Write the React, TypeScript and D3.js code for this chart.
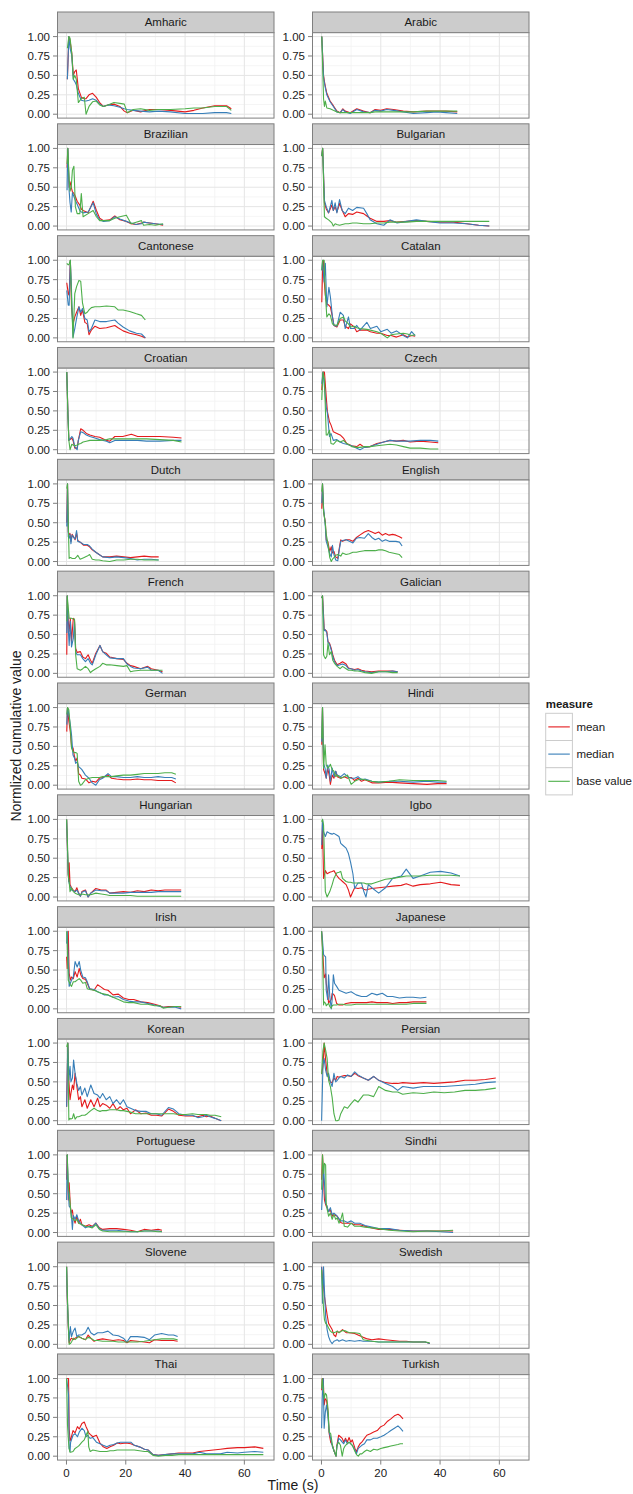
import React from "react";
import * as d3 from "d3";

// ---------- data ----------
const amharicTime = [0.3, 0.8, 1.2, 1.8, 2.3, 2.8, 3.3, 4, 5, 6, 6.6, 7.6, 8.8, 10, 11.2, 12.4, 14, 16, 18, 19.5, 20.5, 22.5, 25, 28, 31, 35, 40, 43, 46, 50, 54, 55.6];
const amharicMean = [0.45, 1.0, 0.95, 0.78, 0.5, 0.55, 0.57, 0.33, 0.22, 0.2, 0.2, 0.25, 0.27, 0.22, 0.15, 0.1, 0.12, 0.13, 0.1, 0.04, 0.02, 0.05, 0.03, 0.06, 0.06, 0.05, 0.03, 0.05, 0.08, 0.11, 0.11, 0.07];
const amharicMedian = [0.45, 1.0, 0.85, 0.75, 0.45, 0.42, 0.38, 0.27, 0.18, 0.17, 0.17, 0.18, 0.2, 0.18, 0.13, 0.1, 0.12, 0.11, 0.09, 0.07, 0.06, 0.05, 0.04, 0.03, 0.04, 0.03, 0.01, 0.01, 0.01, 0.02, 0.02, 0.01];
const amharicBase = [0.85, 1.0, 0.98, 0.78, 0.45, 0.5, 0.45, 0.15, 0.2, 0.22, 0.0, 0.1, 0.16, 0.17, 0.12, 0.1, 0.12, 0.15, 0.14, 0.13, 0.02, 0.06, 0.07, 0.05, 0.06, 0.06, 0.07, 0.08, 0.08, 0.1, 0.1, 0.05];

const arabicTime = [0.1, 0.7, 1.0, 1.3, 1.8, 2.9, 4, 5.2, 6.3, 7.2, 8, 9.7, 11.9, 14.2, 16.4, 18.1, 20, 22, 24.3, 27.6, 31, 35.5, 39, 42, 45.8];
const arabicMean = [1.0, 0.5, 0.42, 0.36, 0.27, 0.17, 0.11, 0.04, 0.02, 0.07, 0.04, 0.02, 0.07, 0.04, 0.02, 0.06, 0.05, 0.07, 0.06, 0.04, 0.03, 0.04, 0.04, 0.04, 0.03];
const arabicMedian = [1.0, 0.48, 0.4, 0.34, 0.25, 0.16, 0.1, 0.03, 0.02, 0.06, 0.03, 0.01, 0.06, 0.03, 0.02, 0.05, 0.04, 0.06, 0.05, 0.03, 0.01, 0.02, 0.03, 0.02, 0.01];
const arabicBase = [1.0, 0.2, 0.1, 0.17, 0.08, 0.07, 0.05, 0.03, 0.02, 0.02, 0.02, 0.02, 0.02, 0.02, 0.02, 0.03, 0.03, 0.03, 0.03, 0.03, 0.03, 0.04, 0.04, 0.04, 0.04];

const brazilianTime = [0.2, 0.45, 0.9, 1.2, 1.6, 2.0, 2.5, 3.0, 3.6, 4.5, 5.0, 5.6, 7.3, 9.0, 10.1, 11.2, 12.5, 14.6, 16.3, 18, 20.2, 21.8, 23.5, 25.3, 26, 28, 30, 32.6];
const brazilianMean = [0.75, 1.0, 0.5, 0.57, 0.5, 0.44, 0.42, 0.38, 0.32, 0.27, 0.22, 0.2, 0.17, 0.32, 0.2, 0.1, 0.07, 0.08, 0.13, 0.08, 0.06, 0.03, 0.02, 0.04, 0.05, 0.04, 0.03, 0.01];
const brazilianMedian = [0.46, 1.0, 0.45, 0.3, 0.18, 0.43, 0.38, 0.33, 0.28, 0.2, 0.18, 0.17, 0.18, 0.3, 0.15, 0.08, 0.06, 0.07, 0.12, 0.09, 0.06, 0.04, 0.02, 0.03, 0.05, 0.04, 0.03, 0.02];
const brazilianBase = [0.8, 1.0, 0.6, 0.45, 0.5, 0.72, 0.77, 0.25, 0.16, 0.16, 0.42, 0.12, 0.16, 0.2, 0.12, 0.07, 0.07, 0.07, 0.1, 0.12, 0.14, 0.03, 0.05, 0.07, 0.01, 0.02, 0.01, 0.03];

const bulgarianTime = [0.1, 0.4, 1.0, 1.6, 2.4, 3.5, 4.0, 4.6, 5.2, 6.1, 7, 8, 9.1, 10.5, 11.9, 14.2, 15.3, 16.4, 18.7, 21, 23.1, 25.5, 28.8, 32, 35.5, 40, 44.5, 49, 53, 56.6];
const bulgarianMean = [0.9, 1.0, 0.3, 0.22, 0.17, 0.27, 0.2, 0.25, 0.18, 0.29, 0.2, 0.12, 0.16, 0.15, 0.18, 0.16, 0.13, 0.1, 0.06, 0.06, 0.07, 0.05, 0.06, 0.07, 0.06, 0.05, 0.05, 0.03, 0.01, 0.0];
const bulgarianMedian = [0.9, 1.0, 0.33, 0.25, 0.17, 0.33, 0.2, 0.3, 0.17, 0.34, 0.2, 0.16, 0.23, 0.2, 0.24, 0.23, 0.16, 0.08, 0.03, 0.01, 0.08, 0.04, 0.06, 0.08, 0.06, 0.04, 0.04, 0.03, 0.01, 0.0];
const bulgarianBase = [0.9, 1.0, 0.12, 0.1, 0.08, 0.04, 0.0, 0.03, 0.02, 0.01, 0.02, 0.03, 0.03, 0.04, 0.04, 0.03, 0.03, 0.03, 0.04, 0.04, 0.05, 0.05, 0.05, 0.06, 0.06, 0.06, 0.06, 0.06, 0.06, 0.06];

const cantoneseTime = [0.1, 0.6, 0.9, 1.3, 1.7, 2.2, 2.8, 3.4, 4.2, 4.8, 5.4, 6.2, 7.0, 7.6, 8.4, 9.6, 11.2, 13.5, 16.3, 17.4, 19.1, 21.3, 23.6, 25.3, 26.6];
const cantoneseMean = [0.71, 0.57, 0.55, 1.0, 0.4, 0.18, 0.27, 0.33, 0.4, 0.29, 0.36, 0.2, 0.18, 0.04, 0.1, 0.15, 0.12, 0.13, 0.16, 0.13, 0.09, 0.06, 0.04, 0.02, 0.0];
const cantoneseMedian = [0.61, 0.42, 0.42, 1.0, 0.6, 0.01, 0.12, 0.25, 0.4, 0.33, 0.38, 0.25, 0.23, 0.08, 0.12, 0.23, 0.21, 0.21, 0.23, 0.19, 0.14, 0.09, 0.06, 0.05, 0.0];
const cantoneseBase = [0.96, 0.94, 0.95, 1.0, 0.5, 0.0, 0.57, 0.66, 0.74, 0.73, 0.45, 0.31, 0.33, 0.36, 0.39, 0.4, 0.4, 0.41, 0.4, 0.36, 0.36, 0.34, 0.31, 0.29, 0.23];

const catalanTime = [0.1, 0.4, 0.7, 0.9, 1.3, 1.8, 2.5, 3.0, 3.7, 4.2, 5.2, 6.3, 7.4, 8.0, 9.1, 9.8, 11.0, 11.9, 13, 15.3, 16.5, 18.7, 20, 22.2, 23.5, 25.3, 27.6, 29, 30.4, 31.6];
const catalanMean = [0.46, 0.94, 1.0, 0.75, 0.55, 0.44, 0.42, 0.4, 0.27, 0.16, 0.14, 0.23, 0.23, 0.15, 0.12, 0.18, 0.14, 0.08, 0.1, 0.1, 0.08, 0.06, 0.06, 0.03, 0.03, 0.01, 0.04, 0.01, 0.03, 0.02];
const catalanMedian = [0.87, 1.0, 0.8, 0.72, 0.96, 0.4, 0.65, 0.53, 0.27, 0.16, 0.15, 0.33, 0.29, 0.12, 0.27, 0.12, 0.12, 0.16, 0.1, 0.2, 0.12, 0.15, 0.08, 0.11, 0.06, 0.09, 0.03, 0.0, 0.08, 0.03];
const catalanBase = [0.87, 1.0, 1.0, 1.0, 0.57, 0.27, 0.31, 0.29, 0.18, 0.17, 0.16, 0.25, 0.27, 0.22, 0.18, 0.14, 0.15, 0.13, 0.12, 0.11, 0.1, 0.08, 0.06, 0.0, 0.04, 0.05, 0.06, 0.05, 0.03, 0.04];

const croatianTime = [0.1, 0.5, 0.8, 1.2, 1.8, 2.2, 2.8, 3.6, 4.0, 4.8, 5.6, 6.7, 7.9, 9.6, 11.2, 13.5, 14.6, 16.3, 19, 21.9, 24, 27, 31.5, 36, 38.8];
const croatianMean = [1.0, 0.45, 0.12, 0.13, 0.15, 0.12, 0.02, 0.02, 0.12, 0.27, 0.25, 0.21, 0.19, 0.17, 0.16, 0.12, 0.11, 0.17, 0.17, 0.2, 0.17, 0.17, 0.17, 0.16, 0.15];
const croatianMedian = [1.0, 0.45, 0.12, 0.14, 0.17, 0.15, 0.04, 0.0, 0.12, 0.23, 0.22, 0.19, 0.17, 0.15, 0.13, 0.11, 0.09, 0.12, 0.12, 0.12, 0.12, 0.11, 0.11, 0.12, 0.12];
const croatianBase = [1.0, 0.42, 0.12, 0.0, 0.07, 0.06, 0.05, 0.06, 0.07, 0.08, 0.1, 0.11, 0.12, 0.12, 0.12, 0.13, 0.14, 0.14, 0.14, 0.14, 0.14, 0.14, 0.13, 0.12, 0.1];

const czechTime = [0.1, 0.5, 1.0, 1.6, 2.0, 2.7, 3.2, 4.0, 5.2, 6.3, 7.4, 8.5, 10.2, 11.9, 13, 14.5, 16.4, 18.7, 21, 23.1, 25.3, 27.6, 29.9, 33.3, 36.7, 39.4];
const czechMean = [0.77, 1.0, 1.0, 0.68, 0.49, 0.36, 0.32, 0.23, 0.21, 0.19, 0.15, 0.08, 0.05, 0.04, 0.07, 0.03, 0.04, 0.08, 0.1, 0.12, 0.11, 0.12, 0.1, 0.11, 0.1, 0.09];
const czechMedian = [0.85, 1.0, 0.81, 0.55, 0.47, 0.17, 0.21, 0.12, 0.13, 0.1, 0.08, 0.07, 0.05, 0.02, 0.0, 0.03, 0.04, 0.07, 0.1, 0.12, 0.11, 0.11, 0.11, 0.12, 0.12, 0.11];
const czechBase = [0.64, 1.0, 0.9, 0.19, 0.19, 0.25, 0.08, 0.07, 0.12, 0.1, 0.12, 0.08, 0.04, 0.03, 0.03, 0.04, 0.04, 0.05, 0.06, 0.07, 0.06, 0.04, 0.02, 0.02, 0.01, 0.01];

const dutchTime = [0.1, 0.35, 0.6, 0.9, 1.2, 1.5, 1.9, 2.4, 2.9, 3.4, 3.8, 4.6, 5.8, 7.0, 7.8, 8.7, 9.9, 11.0, 12.2, 14.6, 16.9, 19.3, 21.6, 23.9, 26.2, 28.6, 31.1];
const dutchMean = [0.5, 1.0, 0.38, 0.35, 0.36, 0.26, 0.35, 0.32, 0.28, 0.37, 0.27, 0.25, 0.21, 0.21, 0.19, 0.15, 0.12, 0.09, 0.06, 0.06, 0.07, 0.06, 0.05, 0.06, 0.07, 0.06, 0.06];
const dutchMedian = [0.45, 1.0, 0.32, 0.3, 0.35, 0.23, 0.34, 0.31, 0.29, 0.4, 0.26, 0.25, 0.22, 0.22, 0.2, 0.16, 0.12, 0.09, 0.06, 0.05, 0.06, 0.05, 0.04, 0.02, 0.03, 0.03, 0.02];
const dutchBase = [0.94, 1.0, 0.5, 0.04, 0.05, 0.05, 0.04, 0.04, 0.04, 0.06, 0.08, 0.03, 0.05, 0.07, 0.09, 0.03, 0.02, 0.02, 0.01, 0.0, 0.02, 0.02, 0.03, 0.03, 0.02, 0.02, 0.02];

const englishTime = [0.1, 0.35, 0.7, 1.3, 1.6, 2.1, 2.8, 3.3, 3.7, 4.2, 4.8, 5.5, 6.0, 6.5, 7.1, 8.3, 9.4, 10.6, 11.8, 12.9, 14.5, 15.8, 17, 18.1, 19.3, 20.5, 21.6, 22.8, 24, 25.1, 26.3, 27.2];
const englishMean = [0.68, 1.0, 0.64, 0.51, 0.28, 0.26, 0.13, 0.19, 0.11, 0.13, 0.06, 0.04, 0.17, 0.28, 0.26, 0.28, 0.28, 0.26, 0.31, 0.34, 0.38, 0.4, 0.38, 0.36, 0.38, 0.34, 0.36, 0.34, 0.35, 0.34, 0.32, 0.3];
const englishMedian = [0.75, 1.0, 0.7, 0.45, 0.26, 0.2, 0.1, 0.06, 0.21, 0.09, 0.02, 0.01, 0.15, 0.26, 0.27, 0.28, 0.26, 0.24, 0.3, 0.31, 0.3, 0.36, 0.31, 0.28, 0.3, 0.26, 0.28, 0.26, 0.26, 0.26, 0.25, 0.2];
const englishBase = [0.9, 1.0, 0.65, 0.49, 0.35, 0.25, 0.05, 0.0, 0.03, 0.05, 0.08, 0.09, 0.08, 0.07, 0.11, 0.09, 0.1, 0.12, 0.12, 0.13, 0.14, 0.14, 0.14, 0.14, 0.15, 0.15, 0.14, 0.12, 0.11, 0.1, 0.09, 0.05];

const frenchTime = [0.1, 0.25, 0.6, 0.9, 1.3, 1.7, 2.3, 2.7, 3.1, 3.6, 4.7, 5.5, 6.4, 7.3, 8.1, 8.7, 9.9, 11.3, 12.2, 13.4, 14.6, 17, 19.2, 20.4, 21.6, 22.7, 25, 27.4, 28.6, 30.9, 32.4];
const frenchMean = [0.24, 1.0, 0.67, 0.54, 0.71, 0.41, 0.71, 0.69, 0.32, 0.27, 0.28, 0.21, 0.19, 0.24, 0.17, 0.13, 0.26, 0.36, 0.28, 0.26, 0.21, 0.19, 0.18, 0.13, 0.1, 0.09, 0.06, 0.09, 0.06, 0.04, 0.02];
const frenchMedian = [0.52, 1.0, 0.58, 0.36, 0.67, 0.34, 0.45, 0.67, 0.28, 0.24, 0.24, 0.19, 0.15, 0.19, 0.13, 0.11, 0.24, 0.36, 0.28, 0.24, 0.2, 0.19, 0.19, 0.12, 0.09, 0.07, 0.06, 0.08, 0.04, 0.04, 0.0];
const frenchBase = [0.67, 1.0, 0.84, 0.71, 0.71, 0.71, 0.7, 0.7, 0.24, 0.06, 0.04, 0.06, 0.09, 0.06, 0.01, 0.03, 0.06, 0.09, 0.13, 0.11, 0.11, 0.1, 0.09, 0.1, 0.02, 0.03, 0.04, 0.04, 0.04, 0.04, 0.04];

const galicianTime = [0.1, 0.35, 0.7, 0.9, 1.3, 1.8, 2.2, 2.7, 3.3, 3.8, 4.4, 5.3, 6.3, 7.1, 8.3, 9.1, 10.0, 11.2, 12.3, 13.5, 14.7, 16.9, 19.3, 21.6, 24, 25.7];
const galicianMean = [0.97, 1.0, 0.75, 0.56, 0.56, 0.54, 0.41, 0.39, 0.32, 0.24, 0.17, 0.11, 0.13, 0.15, 0.12, 0.07, 0.06, 0.05, 0.06, 0.04, 0.03, 0.02, 0.03, 0.03, 0.03, 0.02];
const galicianMedian = [0.97, 1.0, 0.7, 0.55, 0.56, 0.52, 0.4, 0.38, 0.3, 0.22, 0.15, 0.1, 0.11, 0.12, 0.1, 0.06, 0.06, 0.04, 0.05, 0.03, 0.02, 0.01, 0.02, 0.02, 0.03, 0.02];
const galicianBase = [0.97, 1.0, 0.24, 0.22, 0.19, 0.22, 0.39, 0.24, 0.28, 0.17, 0.13, 0.09, 0.06, 0.09, 0.06, 0.04, 0.04, 0.03, 0.03, 0.02, 0.01, 0.0, 0.02, 0.02, 0.01, 0.01];

const germanTime = [0.1, 0.35, 0.8, 1.3, 1.7, 2.2, 2.7, 3.1, 3.6, 4.1, 4.7, 5.2, 6.4, 7.6, 8.7, 9.9, 11.1, 12.2, 14.0, 15.2, 16.9, 19.2, 21.6, 23.9, 26.2, 28.6, 30.9, 33.2, 35.5, 36.9];
const germanMean = [0.69, 1.0, 0.82, 0.69, 0.5, 0.48, 0.37, 0.31, 0.35, 0.15, 0.13, 0.09, 0.08, 0.03, 0.05, 0.04, 0.09, 0.1, 0.13, 0.09, 0.08, 0.07, 0.07, 0.08, 0.07, 0.07, 0.06, 0.06, 0.06, 0.03];
const germanMedian = [0.78, 1.0, 0.91, 0.78, 0.65, 0.39, 0.35, 0.28, 0.3, 0.24, 0.22, 0.2, 0.13, 0.09, 0.03, 0.0, 0.07, 0.09, 0.15, 0.11, 0.11, 0.1, 0.1, 0.11, 0.1, 0.1, 0.11, 0.1, 0.1, 0.08];
const germanBase = [0.91, 1.0, 0.97, 0.73, 0.48, 0.43, 0.42, 0.42, 0.41, 0.05, 0.0, 0.01, 0.07, 0.09, 0.1, 0.1, 0.1, 0.11, 0.11, 0.11, 0.12, 0.13, 0.13, 0.14, 0.15, 0.15, 0.15, 0.16, 0.16, 0.14];

const hindiTime = [0.1, 0.35, 0.7, 1.2, 1.6, 2.1, 2.6, 3.0, 3.6, 4.2, 4.8, 5.3, 6.5, 7.7, 8.8, 9.4, 10.0, 11.2, 12.3, 13.5, 14.7, 17, 19.3, 22.8, 26.3, 30.9, 35.6, 39.1, 42.2];
const hindiMean = [0.52, 1.0, 0.2, 0.15, 0.09, 0.22, 0.13, 0.01, 0.13, 0.09, 0.18, 0.11, 0.09, 0.11, 0.09, 0.1, 0.1, 0.06, 0.09, 0.05, 0.07, 0.03, 0.03, 0.04, 0.03, 0.02, 0.01, 0.02, 0.02];
const hindiMedian = [0.56, 1.0, 0.28, 0.22, 0.09, 0.26, 0.2, 0.05, 0.22, 0.11, 0.18, 0.13, 0.11, 0.15, 0.11, 0.1, 0.09, 0.09, 0.11, 0.07, 0.08, 0.05, 0.04, 0.05, 0.05, 0.04, 0.05, 0.04, 0.04];
const hindiBase = [0.6, 1.0, 0.22, 0.52, 0.26, 0.22, 0.24, 0.27, 0.2, 0.18, 0.11, 0.13, 0.09, 0.11, 0.13, 0.07, 0.01, 0.05, 0.07, 0.08, 0.07, 0.05, 0.04, 0.05, 0.07, 0.06, 0.06, 0.06, 0.05];

const hungarianTime = [0.05, 0.35, 0.6, 0.8, 0.9, 1.2, 1.7, 2.3, 2.9, 3.5, 4.1, 4.7, 5.2, 6.4, 7.3, 8.2, 9.9, 11.7, 13.4, 14.6, 16.9, 19.2, 21.6, 23.9, 26.2, 28.6, 30.9, 33.2, 35.5, 38.7];
const hungarianMean = [1.0, 0.59, 0.29, 0.2, 0.44, 0.16, 0.12, 0.09, 0.07, 0.12, 0.05, 0.01, 0.07, 0.09, 0.0, 0.05, 0.11, 0.09, 0.09, 0.05, 0.06, 0.07, 0.06, 0.08, 0.07, 0.09, 0.08, 0.09, 0.09, 0.09];
const hungarianMedian = [1.0, 0.59, 0.29, 0.2, 0.18, 0.14, 0.09, 0.08, 0.07, 0.09, 0.05, 0.01, 0.06, 0.08, 0.0, 0.05, 0.09, 0.08, 0.08, 0.05, 0.05, 0.05, 0.06, 0.06, 0.06, 0.06, 0.07, 0.07, 0.07, 0.07];
const hungarianBase = [1.0, 0.67, 0.29, 0.22, 0.2, 0.07, 0.12, 0.07, 0.05, 0.04, 0.03, 0.03, 0.04, 0.03, 0.03, 0.03, 0.05, 0.04, 0.03, 0.02, 0.02, 0.02, 0.02, 0.01, 0.01, 0.01, 0.01, 0.01, 0.01, 0.01];

const igboTime = [0.1, 0.35, 0.7, 1.3, 1.9, 2.8, 3.6, 4.2, 5.1, 5.9, 6.5, 7.1, 8.3, 9.1, 9.8, 10.6, 11.2, 12.3, 13.5, 14.3, 15, 15.8, 17, 19.3, 21.6, 24, 26.9, 28.6, 30.9, 33.3, 36.7, 40.2, 43.7, 46.7];
const igboMean = [0.62, 0.93, 0.24, 0.34, 0.3, 0.32, 0.33, 0.34, 0.28, 0.24, 0.22, 0.2, 0.16, 0.09, 0.0, 0.07, 0.12, 0.11, 0.12, 0.1, 0.09, 0.1, 0.11, 0.12, 0.13, 0.14, 0.15, 0.17, 0.14, 0.16, 0.17, 0.19, 0.16, 0.15];
const igboMedian = [0.67, 1.0, 0.84, 0.78, 0.84, 0.82, 0.81, 0.82, 0.8, 0.78, 0.69, 0.67, 0.63, 0.56, 0.45, 0.3, 0.11, 0.18, 0.18, 0.07, 0.0, 0.16, 0.12, 0.05, 0.12, 0.24, 0.27, 0.36, 0.24, 0.27, 0.32, 0.33, 0.31, 0.27];
const igboBase = [0.97, 1.0, 0.93, 0.07, 0.0, 0.07, 0.16, 0.24, 0.31, 0.32, 0.33, 0.24, 0.2, 0.19, 0.19, 0.18, 0.18, 0.18, 0.18, 0.18, 0.17, 0.17, 0.17, 0.2, 0.23, 0.24, 0.26, 0.27, 0.27, 0.27, 0.28, 0.28, 0.28, 0.27];

const irishTime = [0.05, 0.25, 0.6, 0.9, 1.3, 1.7, 2.3, 2.9, 3.6, 4.3, 4.8, 5.5, 6.4, 7.0, 7.8, 9.3, 10.5, 11.7, 12.8, 14.0, 15.7, 17.5, 19.2, 21, 22.7, 25.1, 27.4, 29.7, 31.5, 32.6, 34.4, 36.7, 38.7];
const irishMean = [0.67, 0.52, 1.0, 0.46, 0.37, 0.41, 0.39, 0.48, 0.41, 0.52, 0.44, 0.39, 0.38, 0.33, 0.26, 0.24, 0.31, 0.28, 0.25, 0.24, 0.18, 0.19, 0.14, 0.12, 0.12, 0.09, 0.08, 0.06, 0.04, 0.02, 0.03, 0.03, 0.02];
const irishMedian = [0.84, 1.0, 0.63, 0.29, 0.33, 0.37, 0.41, 0.61, 0.54, 0.61, 0.5, 0.41, 0.4, 0.35, 0.26, 0.25, 0.22, 0.2, 0.18, 0.18, 0.15, 0.16, 0.12, 0.1, 0.09, 0.09, 0.07, 0.05, 0.03, 0.02, 0.02, 0.02, 0.0];
const irishBase = [1.0, 0.84, 0.37, 0.35, 0.31, 0.29, 0.35, 0.35, 0.37, 0.39, 0.37, 0.33, 0.34, 0.26, 0.25, 0.24, 0.22, 0.2, 0.19, 0.18, 0.15, 0.12, 0.09, 0.08, 0.08, 0.06, 0.06, 0.04, 0.04, 0.01, 0.02, 0.03, 0.03];

const japaneseTime = [0.05, 0.35, 0.7, 0.9, 1.4, 1.6, 2.1, 2.4, 2.8, 3.3, 3.6, 4.0, 4.4, 5.1, 5.9, 7.1, 8.3, 10, 11.7, 13.5, 15.2, 17, 18.7, 20.5, 22.2, 24, 26.3, 28.6, 30.9, 33.3, 35.4];
const japaneseMean = [1.0, 0.8, 0.54, 0.4, 0.45, 0.33, 0.2, 0.07, 0.1, 0.12, 0.2, 0.19, 0.17, 0.07, 0.05, 0.05, 0.07, 0.08, 0.08, 0.08, 0.08, 0.09, 0.08, 0.08, 0.08, 0.07, 0.08, 0.08, 0.09, 0.09, 0.09];
const japaneseMedian = [1.0, 0.88, 0.7, 0.69, 0.67, 0.24, 0.12, 0.44, 0.16, 0.0, 0.12, 0.44, 0.33, 0.29, 0.24, 0.22, 0.2, 0.22, 0.18, 0.16, 0.16, 0.2, 0.18, 0.2, 0.16, 0.16, 0.14, 0.15, 0.15, 0.14, 0.15];
const japaneseBase = [1.0, 0.76, 0.05, 0.09, 0.07, 0.04, 0.06, 0.07, 0.03, 0.01, 0.04, 0.05, 0.05, 0.05, 0.06, 0.06, 0.05, 0.05, 0.06, 0.06, 0.06, 0.06, 0.06, 0.06, 0.06, 0.06, 0.06, 0.06, 0.07, 0.07, 0.07];

const koreanTime = [0.05, 0.45, 0.8, 1.2, 1.5, 2.0, 2.4, 2.9, 3.5, 4.1, 4.7, 5.2, 6.2, 7.0, 8.2, 9.3, 10.5, 11.3, 12.2, 13.4, 14.6, 15.7, 16.9, 18.1, 19.2, 20.4, 21.6, 23.3, 25.1, 26.8, 28.6, 30.3, 32.1, 34.4, 36.1, 37.9, 40.2, 42.5, 44.3, 46, 47.2, 48.4, 50.1, 52.2];
const koreanMean = [0.18, 1.0, 0.52, 0.27, 0.35, 0.46, 0.4, 0.61, 0.44, 0.27, 0.31, 0.18, 0.27, 0.16, 0.27, 0.18, 0.29, 0.18, 0.22, 0.2, 0.16, 0.22, 0.14, 0.18, 0.14, 0.16, 0.09, 0.14, 0.09, 0.1, 0.07, 0.07, 0.06, 0.15, 0.12, 0.07, 0.06, 0.06, 0.05, 0.07, 0.05, 0.06, 0.03, 0.0];
const koreanMedian = [0.18, 1.0, 0.52, 0.7, 0.5, 0.55, 0.78, 0.61, 0.48, 0.39, 0.44, 0.33, 0.42, 0.31, 0.46, 0.35, 0.33, 0.29, 0.35, 0.27, 0.31, 0.22, 0.27, 0.21, 0.27, 0.18, 0.16, 0.13, 0.12, 0.12, 0.09, 0.09, 0.07, 0.17, 0.15, 0.09, 0.07, 0.07, 0.04, 0.05, 0.07, 0.05, 0.03, 0.0];
const koreanBase = [0.95, 1.0, 0.01, 0.03, 0.02, 0.03, 0.09, 0.02, 0.05, 0.05, 0.06, 0.07, 0.07, 0.09, 0.13, 0.16, 0.13, 0.12, 0.13, 0.13, 0.14, 0.14, 0.14, 0.13, 0.13, 0.12, 0.11, 0.09, 0.09, 0.09, 0.09, 0.09, 0.09, 0.09, 0.09, 0.08, 0.08, 0.09, 0.08, 0.08, 0.08, 0.07, 0.07, 0.05];

const persianTime = [0.05, 0.5, 0.9, 1.4, 1.9, 2.4, 3.0, 3.6, 4.2, 4.8, 5.3, 5.9, 6.5, 7.7, 8.8, 10, 11.2, 12.3, 14.1, 15.8, 17.6, 19.3, 21.6, 24, 25.7, 27.4, 30.9, 34.4, 37.9, 41.4, 44.9, 48.4, 51.9, 55.3, 58.8];
const persianMean = [0.6, 0.7, 1.0, 0.78, 0.61, 0.55, 0.5, 0.49, 0.55, 0.52, 0.57, 0.56, 0.57, 0.58, 0.58, 0.57, 0.61, 0.58, 0.55, 0.52, 0.57, 0.52, 0.49, 0.48, 0.48, 0.49, 0.48, 0.49, 0.48, 0.49, 0.5, 0.52, 0.52, 0.53, 0.55];
const persianMedian = [0.0, 0.72, 0.8, 0.65, 0.57, 0.61, 0.5, 0.44, 0.61, 0.5, 0.52, 0.55, 0.57, 0.55, 0.59, 0.57, 0.63, 0.59, 0.55, 0.52, 0.57, 0.52, 0.48, 0.44, 0.39, 0.44, 0.42, 0.44, 0.44, 0.44, 0.45, 0.46, 0.47, 0.49, 0.5];
const persianBase = [0.6, 0.9, 1.0, 0.91, 0.8, 0.52, 0.44, 0.3, 0.09, 0.0, 0.0, 0.01, 0.09, 0.18, 0.16, 0.22, 0.27, 0.24, 0.33, 0.33, 0.31, 0.44, 0.39, 0.37, 0.37, 0.34, 0.36, 0.35, 0.37, 0.36, 0.37, 0.39, 0.39, 0.4, 0.42];

const portugueseTime = [0.05, 0.25, 0.6, 0.9, 1.3, 1.6, 2.0, 2.3, 2.9, 3.5, 4.1, 4.7, 5.2, 6.4, 7.6, 8.7, 9.9, 11.1, 12.2, 14.6, 16.9, 19.2, 21.6, 23.9, 26.2, 28.6, 30.9, 32.2];
const portugueseMean = [0.68, 1.0, 0.42, 0.64, 0.34, 0.25, 0.29, 0.19, 0.12, 0.21, 0.12, 0.17, 0.1, 0.08, 0.1, 0.08, 0.12, 0.06, 0.04, 0.05, 0.05, 0.04, 0.03, 0.01, 0.04, 0.03, 0.04, 0.03];
const portugueseMedian = [0.42, 1.0, 0.55, 0.34, 0.32, 0.25, 0.04, 0.22, 0.17, 0.23, 0.15, 0.12, 0.1, 0.06, 0.08, 0.07, 0.12, 0.05, 0.03, 0.03, 0.03, 0.02, 0.01, 0.01, 0.02, 0.02, 0.02, 0.01];
const portugueseBase = [0.98, 1.0, 0.59, 0.51, 0.34, 0.19, 0.18, 0.17, 0.15, 0.17, 0.12, 0.11, 0.1, 0.08, 0.07, 0.06, 0.1, 0.04, 0.02, 0.01, 0.01, 0.01, 0.01, 0.01, 0.02, 0.02, 0.01, 0.01];

const sindhiTime = [0.05, 0.35, 0.7, 1.0, 1.4, 1.6, 1.9, 2.1, 2.4, 3.0, 3.6, 4.2, 4.8, 5.3, 5.9, 6.5, 7.1, 7.7, 8.8, 10, 11.2, 12.9, 14.7, 17, 19.3, 22.8, 26.3, 30.9, 35.6, 40.2, 44.4];
const sindhiMean = [0.68, 1.0, 0.68, 0.42, 0.36, 0.34, 0.32, 0.3, 0.27, 0.29, 0.21, 0.23, 0.22, 0.21, 0.17, 0.13, 0.12, 0.12, 0.12, 0.12, 0.1, 0.1, 0.08, 0.06, 0.04, 0.04, 0.03, 0.02, 0.02, 0.02, 0.02];
const sindhiMedian = [0.29, 0.55, 0.85, 0.64, 0.38, 0.36, 0.34, 0.3, 0.27, 0.32, 0.23, 0.25, 0.23, 0.21, 0.18, 0.15, 0.15, 0.15, 0.13, 0.15, 0.12, 0.12, 0.09, 0.07, 0.05, 0.05, 0.03, 0.02, 0.02, 0.01, 0.0];
const sindhiBase = [0.55, 1.0, 0.76, 0.89, 0.87, 0.38, 0.3, 0.27, 0.21, 0.25, 0.17, 0.23, 0.17, 0.19, 0.12, 0.17, 0.25, 0.08, 0.07, 0.12, 0.08, 0.08, 0.07, 0.06, 0.05, 0.03, 0.02, 0.01, 0.02, 0.02, 0.03];

const sloveneTime = [0.05, 0.25, 0.6, 0.9, 1.3, 1.7, 2.3, 2.9, 3.5, 4.1, 5.2, 6.4, 7.3, 8.2, 9.3, 10.5, 12.2, 14, 15.7, 17.5, 19.2, 20.4, 21.6, 23.9, 26.2, 28, 29.7, 32.1, 34.4, 36.1, 37.5];
const sloveneMean = [1.0, 0.62, 0.23, 0.02, 0.06, 0.08, 0.06, 0.08, 0.09, 0.1, 0.08, 0.06, 0.12, 0.08, 0.04, 0.06, 0.07, 0.06, 0.05, 0.06, 0.05, 0.02, 0.05, 0.04, 0.03, 0.02, 0.06, 0.05, 0.05, 0.05, 0.04];
const sloveneMedian = [1.0, 0.62, 0.27, 0.04, 0.23, 0.1, 0.17, 0.21, 0.1, 0.12, 0.12, 0.15, 0.22, 0.15, 0.12, 0.15, 0.15, 0.17, 0.12, 0.11, 0.08, 0.03, 0.1, 0.1, 0.09, 0.06, 0.12, 0.14, 0.12, 0.12, 0.1];
const sloveneBase = [1.0, 0.7, 0.27, 0.0, 0.01, 0.03, 0.08, 0.06, 0.08, 0.1, 0.08, 0.06, 0.09, 0.08, 0.05, 0.05, 0.04, 0.04, 0.04, 0.03, 0.03, 0.03, 0.03, 0.03, 0.04, 0.05, 0.06, 0.07, 0.07, 0.07, 0.06];

const swedishTime = [0.05, 0.35, 0.7, 1.0, 1.4, 1.9, 2.4, 3.0, 3.6, 4.2, 4.8, 5.3, 5.9, 7.1, 8.3, 9.4, 11.2, 12.9, 14.1, 15.5, 17, 19.3, 21.6, 24, 26.3, 28.6, 30.9, 33.3, 35, 36.5];
const swedishMean = [1.0, 0.83, 0.75, 0.62, 0.51, 0.38, 0.27, 0.23, 0.19, 0.12, 0.1, 0.17, 0.15, 0.19, 0.15, 0.15, 0.14, 0.11, 0.09, 0.07, 0.06, 0.07, 0.06, 0.05, 0.04, 0.04, 0.03, 0.03, 0.03, 0.01];
const swedishMedian = [1.0, 0.53, 1.0, 0.7, 0.36, 0.19, 0.1, 0.04, 0.01, 0.04, 0.05, 0.06, 0.04, 0.06, 0.04, 0.05, 0.04, 0.05, 0.04, 0.04, 0.04, 0.03, 0.03, 0.03, 0.03, 0.03, 0.03, 0.03, 0.03, 0.01];
const swedishBase = [0.96, 0.7, 0.45, 0.32, 0.27, 0.25, 0.21, 0.17, 0.15, 0.15, 0.16, 0.17, 0.15, 0.18, 0.17, 0.15, 0.15, 0.14, 0.06, 0.05, 0.04, 0.03, 0.03, 0.03, 0.03, 0.03, 0.03, 0.03, 0.03, 0.02];

const thaiTime = [0.05, 0.35, 0.7, 0.9, 1.2, 1.4, 2.2, 2.9, 3.7, 4.3, 5.2, 6.0, 6.6, 7.2, 7.5, 8.0, 8.9, 10.1, 11.3, 12.4, 13.6, 14.7, 15.9, 17.1, 18.2, 20, 21.7, 22.9, 24.6, 26.3, 27.5, 29.2, 31, 33.3, 35.6, 37.9, 40, 42.6, 44.9, 47.2, 49.5, 51.9, 54.2, 57.7, 60, 63.5, 66.4];
const thaiMean = [1.0, 1.0, 1.0, 0.36, 0.2, 0.21, 0.33, 0.3, 0.38, 0.35, 0.42, 0.44, 0.38, 0.33, 0.3, 0.28, 0.25, 0.27, 0.17, 0.12, 0.1, 0.12, 0.14, 0.17, 0.16, 0.17, 0.16, 0.14, 0.12, 0.09, 0.08, 0.02, 0.01, 0.02, 0.03, 0.04, 0.04, 0.04, 0.06, 0.07, 0.08, 0.09, 0.1, 0.11, 0.11, 0.12, 0.1];
const thaiMedian = [1.0, 0.91, 0.79, 0.1, 0.06, 0.18, 0.27, 0.29, 0.25, 0.31, 0.36, 0.33, 0.25, 0.27, 0.25, 0.23, 0.24, 0.18, 0.16, 0.14, 0.12, 0.14, 0.15, 0.17, 0.18, 0.18, 0.18, 0.14, 0.12, 0.09, 0.08, 0.02, 0.01, 0.02, 0.03, 0.03, 0.03, 0.03, 0.05, 0.03, 0.03, 0.03, 0.05, 0.04, 0.05, 0.06, 0.05];
const thaiBase = [1.0, 0.4, 0.18, 0.1, 0.05, 0.05, 0.06, 0.1, 0.12, 0.14, 0.18, 0.21, 0.27, 0.32, 0.12, 0.06, 0.08, 0.07, 0.06, 0.06, 0.06, 0.07, 0.07, 0.08, 0.08, 0.08, 0.08, 0.08, 0.07, 0.06, 0.06, 0.01, 0.0, 0.01, 0.01, 0.02, 0.02, 0.02, 0.02, 0.02, 0.02, 0.02, 0.02, 0.02, 0.02, 0.02, 0.02];

const turkishTime = [0.05, 0.25, 0.6, 0.9, 1.3, 1.7, 2.2, 2.6, 3.1, 3.7, 4.3, 4.9, 5.2, 5.8, 6.4, 7.0, 7.5, 8.1, 8.7, 9.3, 9.9, 10.4, 11.3, 11.8, 12.4, 13, 13.6, 14.5, 15.3, 16.5, 17.6, 18.8, 20, 21.1, 22.3, 23.4, 24.6, 25.8, 26.6, 27.5];
const turkishMean = [0.85, 1.0, 1.0, 0.66, 0.74, 0.72, 0.57, 0.29, 0.18, 0.14, 0.06, 0.0, 0.14, 0.27, 0.25, 0.23, 0.18, 0.23, 0.18, 0.24, 0.18, 0.21, 0.1, 0.06, 0.12, 0.16, 0.18, 0.23, 0.27, 0.29, 0.31, 0.33, 0.38, 0.4, 0.45, 0.48, 0.52, 0.54, 0.52, 0.48];
const turkishMedian = [0.36, 0.74, 1.0, 0.36, 0.57, 0.66, 0.5, 0.31, 0.23, 0.12, 0.06, 0.0, 0.12, 0.23, 0.21, 0.18, 0.16, 0.21, 0.16, 0.18, 0.16, 0.14, 0.08, 0.03, 0.1, 0.12, 0.14, 0.16, 0.21, 0.21, 0.23, 0.23, 0.25, 0.27, 0.3, 0.33, 0.36, 0.39, 0.36, 0.32];
const turkishBase = [0.87, 1.0, 0.87, 0.74, 0.81, 0.79, 0.61, 0.31, 0.29, 0.14, 0.06, 0.0, 0.14, 0.18, 0.14, 0.0, 0.1, 0.14, 0.16, 0.18, 0.16, 0.14, 0.06, 0.02, 0.0, 0.03, 0.03, 0.06, 0.08, 0.06, 0.09, 0.08, 0.1, 0.11, 0.12, 0.13, 0.14, 0.15, 0.16, 0.16];

const languages = ["Amharic", "Arabic", "Brazilian", "Bulgarian", "Cantonese", "Catalan", "Croatian", "Czech", "Dutch", "English", "French", "Galician", "German", "Hindi", "Hungarian", "Igbo", "Irish", "Japanese", "Korean", "Persian", "Portuguese", "Sindhi", "Slovene", "Swedish", "Thai", "Turkish"];
const measures = ["mean", "median", "base value"];
const measureColors = ["#E41A1C", "#377EB8", "#4DAF4A"];
const xTicks = [0, 20, 40, 60];
const xMinor = [10, 30, 50];
const yTicks = [0, 0.25, 0.5, 0.75, 1];
const yTickLabels = ["0.00", "0.25", "0.50", "0.75", "1.00"];
const yMinor = [0.125, 0.375, 0.625, 0.875];

const table: Record<string, { time: number[]; values: number[][] }> = {
  Amharic: { time: amharicTime, values: [amharicMean, amharicMedian, amharicBase] },
  Arabic: { time: arabicTime, values: [arabicMean, arabicMedian, arabicBase] },
  Brazilian: { time: brazilianTime, values: [brazilianMean, brazilianMedian, brazilianBase] },
  Bulgarian: { time: bulgarianTime, values: [bulgarianMean, bulgarianMedian, bulgarianBase] },
  Cantonese: { time: cantoneseTime, values: [cantoneseMean, cantoneseMedian, cantoneseBase] },
  Catalan: { time: catalanTime, values: [catalanMean, catalanMedian, catalanBase] },
  Croatian: { time: croatianTime, values: [croatianMean, croatianMedian, croatianBase] },
  Czech: { time: czechTime, values: [czechMean, czechMedian, czechBase] },
  Dutch: { time: dutchTime, values: [dutchMean, dutchMedian, dutchBase] },
  English: { time: englishTime, values: [englishMean, englishMedian, englishBase] },
  French: { time: frenchTime, values: [frenchMean, frenchMedian, frenchBase] },
  Galician: { time: galicianTime, values: [galicianMean, galicianMedian, galicianBase] },
  German: { time: germanTime, values: [germanMean, germanMedian, germanBase] },
  Hindi: { time: hindiTime, values: [hindiMean, hindiMedian, hindiBase] },
  Hungarian: { time: hungarianTime, values: [hungarianMean, hungarianMedian, hungarianBase] },
  Igbo: { time: igboTime, values: [igboMean, igboMedian, igboBase] },
  Irish: { time: irishTime, values: [irishMean, irishMedian, irishBase] },
  Japanese: { time: japaneseTime, values: [japaneseMean, japaneseMedian, japaneseBase] },
  Korean: { time: koreanTime, values: [koreanMean, koreanMedian, koreanBase] },
  Persian: { time: persianTime, values: [persianMean, persianMedian, persianBase] },
  Portuguese: { time: portugueseTime, values: [portugueseMean, portugueseMedian, portugueseBase] },
  Sindhi: { time: sindhiTime, values: [sindhiMean, sindhiMedian, sindhiBase] },
  Slovene: { time: sloveneTime, values: [sloveneMean, sloveneMedian, sloveneBase] },
  Swedish: { time: swedishTime, values: [swedishMean, swedishMedian, swedishBase] },
  Thai: { time: thaiTime, values: [thaiMean, thaiMedian, thaiBase] },
  Turkish: { time: turkishTime, values: [turkishMean, turkishMedian, turkishBase] },
};

// ---------- layout ----------
const W = 633;
const H = 1494;
const colLeft = [57.5, 312.5];
const panelW = 216.5;
const rowTop0 = 12;
const rowPitch = 111.83;
const stripH = 20.7;
const panelH = 85.4;
const nRows = 13;
const FONT = "'Liberation Sans', Arial, Helvetica, sans-serif";
const TEXT = "#1a1a1a";
const BORDER = "#7F7F7F";

function Panel({ lang, idx }: { lang: string; idx: number }) {
  const col = idx % 2;
  const row = Math.floor(idx / 2);
  const left = colLeft[col];
  const top = rowTop0 + row * rowPitch;
  const pTop = top + stripH;
  const pBottom = pTop + panelH;
  const x = d3.scaleLinear().domain([-3.03, 70.0]).range([left, left + panelW]);
  const y = d3.scaleLinear().domain([-0.05, 1.05]).range([pBottom, pTop]);
  const line = d3
    .line<[number, number]>()
    .x((d) => x(d[0]))
    .y((d) => y(d[1]));
  const d = table[lang];
  const isBottom = row === nRows - 1;
  return (
    <g>
      {/* strip */}
      <rect x={left} y={top} width={panelW} height={stripH} fill="#CCCCCC" stroke={BORDER} strokeWidth={1} />
      <text x={left + panelW / 2} y={top + stripH / 2 + 4} textAnchor="middle" fontSize={11.5} fill={TEXT} fontFamily={FONT}>
        {lang}
      </text>
      {/* panel background */}
      <rect x={left} y={pTop} width={panelW} height={panelH} fill="#FFFFFF" />
      {yMinor.map((v) => (
        <line key={"ym" + v} x1={left} x2={left + panelW} y1={y(v)} y2={y(v)} stroke="#F2F2F2" strokeWidth={0.8} />
      ))}
      {xMinor.map((v) => (
        <line key={"xm" + v} x1={x(v)} x2={x(v)} y1={pTop} y2={pBottom} stroke="#F2F2F2" strokeWidth={0.8} />
      ))}
      {yTicks.map((v) => (
        <line key={"yg" + v} x1={left} x2={left + panelW} y1={y(v)} y2={y(v)} stroke="#E5E5E5" strokeWidth={1} />
      ))}
      {xTicks.map((v) => (
        <line key={"xg" + v} x1={x(v)} x2={x(v)} y1={pTop} y2={pBottom} stroke="#E5E5E5" strokeWidth={1} />
      ))}
      {/* series */}
      {d.values.map((vals, k) => {
        const n = Math.min(vals.length, d.time.length);
        const pts: [number, number][] = [];
        for (let i = 0; i < n; i++) pts.push([d.time[i], vals[i]]);
        return (
          <path key={k} d={line(pts) || ""} fill="none" stroke={measureColors[k]} strokeWidth={1.1} strokeLinejoin="round" />
        );
      })}
      {/* border */}
      <rect x={left} y={pTop} width={panelW} height={panelH} fill="none" stroke={BORDER} strokeWidth={1} />
      {/* y axis */}
      {yTicks.map((v, i) => (
        <g key={"yt" + v}>
          <line x1={left - 4.5} x2={left} y1={y(v)} y2={y(v)} stroke={BORDER} strokeWidth={1} />
          <text x={left - 7.5} y={y(v) + 4} textAnchor="end" fontSize={11.5} fill={TEXT} fontFamily={FONT}>
            {yTickLabels[i]}
          </text>
        </g>
      ))}
      {/* x axis for bottom row */}
      {isBottom &&
        xTicks.map((v) => (
          <g key={"xt" + v}>
            <line x1={x(v)} x2={x(v)} y1={pBottom} y2={pBottom + 4.5} stroke={BORDER} strokeWidth={1} />
            <text x={x(v)} y={pBottom + 16.5} textAnchor="middle" fontSize={11.5} fill={TEXT} fontFamily={FONT}>
              {String(v)}
            </text>
          </g>
        ))}
    </g>
  );
}

export default function App() {
  const legendX = 545.7;
  const keyTop = 713.3;
  const keyH = 27.2;
  const keyW = 26.7;
  const midY = (rowTop0 + rowTop0 + (nRows - 1) * rowPitch + stripH + panelH) / 2;
  return (
    <svg
      width={W}
      height={H}
      viewBox={`0 0 ${W} ${H}`}
      style={{ position: "absolute", left: 0, top: 0, display: "block", background: "#fff" }}
    >
      <rect x={0} y={0} width={W} height={H} fill="#FFFFFF" />
      {languages.map((lang, i) => (
        <Panel key={lang} lang={lang} idx={i} />
      ))}
      {/* axis titles */}
      <text x={293} y={1490} textAnchor="middle" fontSize={14} fill={TEXT} fontFamily={FONT}>
        Time (s)
      </text>
      <text
        transform={`translate(21, ${midY}) rotate(-90)`}
        textAnchor="middle"
        fontSize={14}
        fill={TEXT}
        fontFamily={FONT}
      >
        Normlized cumulative value
      </text>
      {/* legend */}
      <text x={legendX} y={708} fontSize={11.5} fontWeight="bold" fill={TEXT} fontFamily={FONT}>
        measure
      </text>
      {measures.map((m, i) => {
        const ky = keyTop + i * keyH;
        return (
          <g key={m}>
            <rect x={legendX} y={ky} width={keyW} height={keyH} fill="#FFFFFF" stroke="#CCCCCC" strokeWidth={1} />
            <line x1={legendX + 2.6} x2={legendX + keyW - 2.6} y1={ky + keyH / 2} y2={ky + keyH / 2} stroke={measureColors[i]} strokeWidth={1.1} />
            <text x={legendX + keyW + 4} y={ky + keyH / 2 + 4} fontSize={11.5} fill={TEXT} fontFamily={FONT}>
              {m}
            </text>
          </g>
        );
      })}
    </svg>
  );
}
